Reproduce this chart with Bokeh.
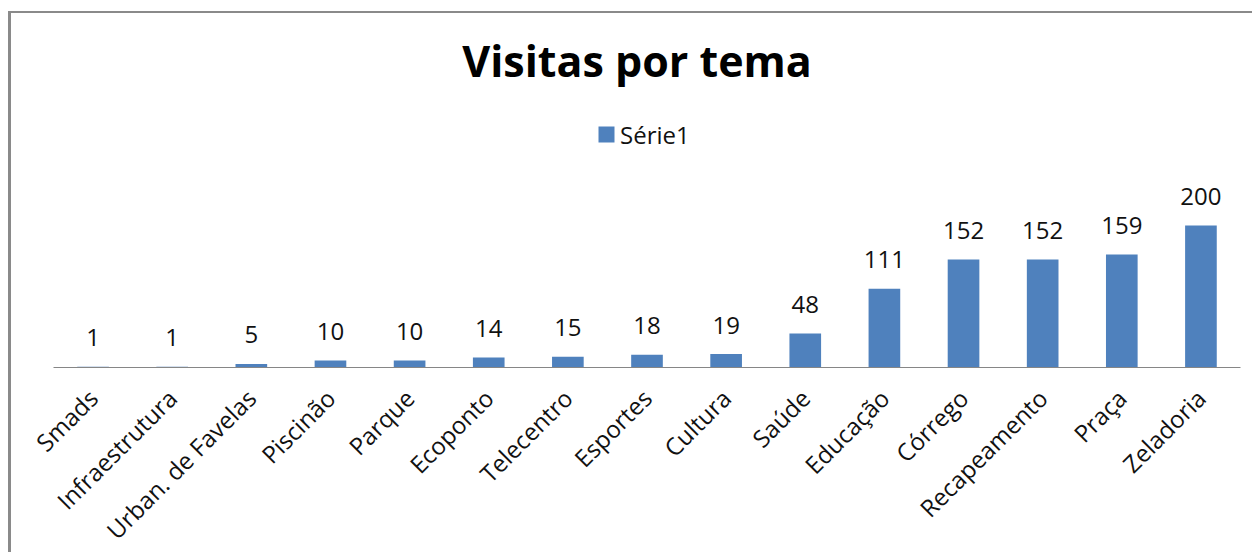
import math
from bokeh.plotting import figure
from bokeh.layouts import column
from bokeh.models import (ColumnDataSource, FactorRange, Range1d, Legend, LegendItem, Label,
                          GlobalInlineStyleSheet)
from bokeh.embed import file_html
from bokeh.resources import INLINE
from bokeh.core.properties import value

categories = ["Smads", "Infraestrutura", "Urban. de Favelas", "Piscinão", "Parque",
              "Ecoponto", "Telecentro", "Esportes", "Cultura", "Saúde", "Educação",
              "Córrego", "Recapeamento", "Praça", "Zeladoria"]
visitas = [1, 1, 5, 10, 10, 14, 15, 18, 19, 48, 111, 152, 152, 159, 200]
series_name = "Série1"
title_text = "Visitas por tema"

FONT = "Open Sans"
BAR = "#4F81BD"

src = ColumnDataSource(dict(cat=categories, val=visitas, lbl=[str(v) for v in visitas]))

p = figure(x_range=FactorRange(factors=categories, range_padding=0),
           y_range=Range1d(0, 498.6),
           width=1241, height=547,
           output_backend="svg", toolbar_location=None,
           y_axis_location=None,
           min_border_left=42, min_border_right=12,
           min_border_top=0, min_border_bottom=193)
p.outline_line_color = None
p.xgrid.visible = False
p.ygrid.visible = False
p.background_fill_color = "white"
p.border_fill_color = "white"

r = p.vbar(x="cat", top="val", width=0.4, source=src, fill_color=BAR, line_color=None)
p.text(x="cat", y="val", text="lbl", source=src, text_align="center",
       text_baseline="alphabetic", y_offset=-29, text_font=value(FONT),
       text_font_size="24px", text_color="#111111")

ax = p.xaxis[0]
ax.major_label_orientation = math.pi / 4
ax.major_tick_line_color = None
ax.minor_tick_line_color = None
ax.major_tick_out = 0
ax.major_tick_in = 0
ax.axis_line_color = "#868686"
ax.major_label_standoff = 26
ax.major_label_text_font = FONT
ax.major_label_text_font_size = "24px"
ax.major_label_text_color = "#111111"

legend = Legend(items=[LegendItem(label=series_name, renderers=[r])],
                location=(543, 216), orientation="horizontal", padding=0, margin=0,
                border_line_color=None, background_fill_alpha=0,
                glyph_width=20, glyph_height=20, label_height=34, label_standoff=4,
                label_text_font=FONT, label_text_font_size="24px",
                label_text_color="#111111")
p.add_layout(legend)

title = Label(x=583.5, y=307, x_units="screen", y_units="screen", text=title_text,
              text_align="center", text_baseline="alphabetic", text_font=FONT,
              text_font_size="43px", text_font_style="bold", text_color="#000000")
p.add_layout(title)

page = column(p, styles={"border-left": "3px solid #8a8a8a",
                         "border-top": "2px solid #8a8a8a",
                         "margin-top": "11px", "margin-left": "8px",
                         "box-sizing": "content-box"},
              stylesheets=[GlobalInlineStyleSheet(css="html, body { overflow: hidden; }")])

open("out.html", "w").write(file_html(page, INLINE))
